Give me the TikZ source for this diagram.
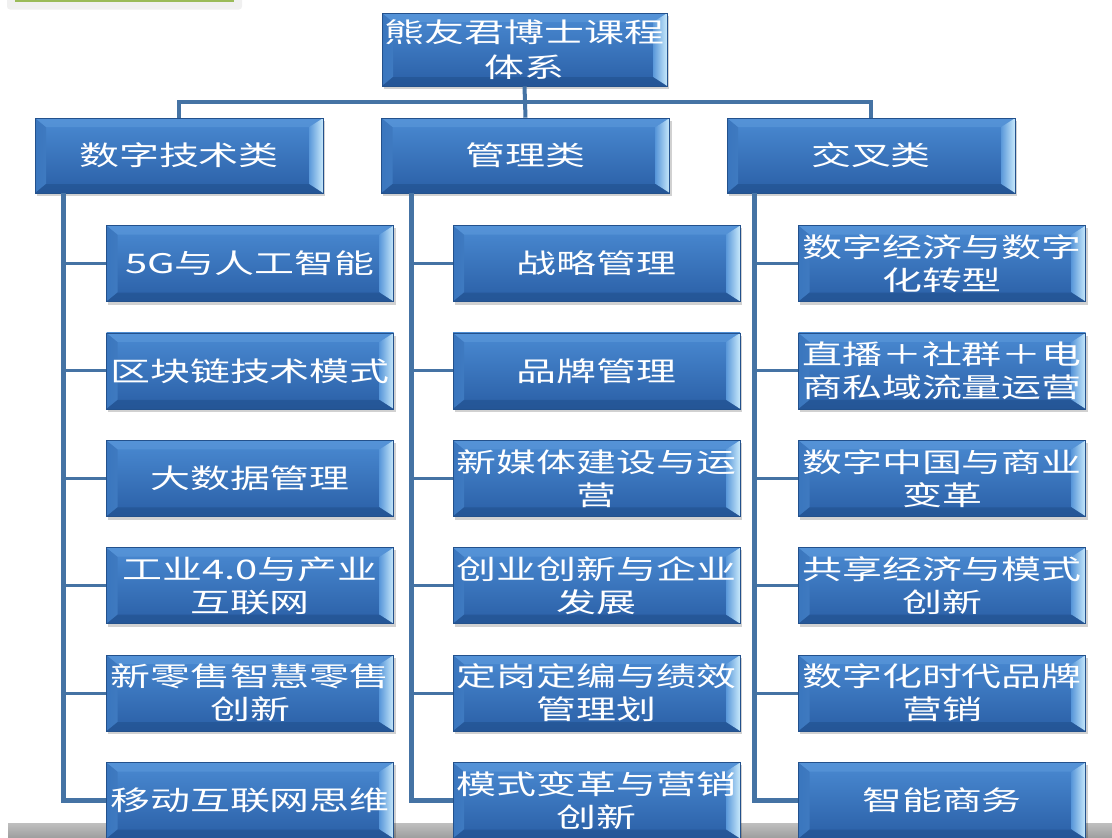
\documentclass[tikz,border=0pt]{standalone}
\usepackage{fontspec}
\newfontfamily\cjk[FakeStretch=1.48]{Noto Sans CJK SC}
\usetikzlibrary{calc,backgrounds}
\definecolor{boxtop}{HTML}{4A8AD2}
\definecolor{boxbot}{HTML}{2A5FA6}
\definecolor{boxedge}{HTML}{23518C}
\definecolor{bevLo}{HTML}{3A76BE}
\definecolor{bevLi}{HTML}{B3DBF7}
\definecolor{bevRi}{HTML}{5A98DA}
\definecolor{bevRo}{HTML}{C8E9FB}
\definecolor{bevT}{HTML}{5C99DB}
\definecolor{bevB}{HTML}{21508D}
\definecolor{connc}{HTML}{4573A4}
\definecolor{tabgreen}{HTML}{9BBB59}
\newcommand\mybevels{%
  \shade[left color=bevLo, right color=bevLi]
    (path picture bounding box.north west)
    -- ([xshift=11pt,yshift=-9pt]path picture bounding box.north west)
    -- ([xshift=11pt,yshift=9pt]path picture bounding box.south west)
    -- (path picture bounding box.south west) -- cycle;
  \shade[left color=bevRi, right color=bevRo]
    (path picture bounding box.north east)
    -- ([xshift=-14pt,yshift=-9pt]path picture bounding box.north east)
    -- ([xshift=-14pt,yshift=9pt]path picture bounding box.south east)
    -- (path picture bounding box.south east) -- cycle;
  \fill[bevT, opacity=0.6]
    (path picture bounding box.north west)
    -- (path picture bounding box.north east)
    -- ([xshift=-14pt,yshift=-9pt]path picture bounding box.north east)
    -- ([xshift=11pt,yshift=-9pt]path picture bounding box.north west) -- cycle;
  \fill[bevB, opacity=0.6]
    (path picture bounding box.south west)
    -- (path picture bounding box.south east)
    -- ([xshift=-14pt,yshift=9pt]path picture bounding box.south east)
    -- ([xshift=11pt,yshift=9pt]path picture bounding box.south west) -- cycle;
}
\tikzset{
  blk/.style={rectangle, draw=boxedge, line width=0.6pt, top color=boxtop,
    bottom color=boxbot, text=white, align=center, inner sep=0pt,
    font=\cjk\fontsize{27}{33}\selectfont, path picture={\mybevels}},
  rootbox/.style={blk, minimum width=285pt, minimum height=73pt, font=\cjk\fontsize{27}{35}\selectfont},
  catbox/.style={blk, minimum width=288pt, minimum height=75pt},
  itembox/.style={blk, minimum width=287pt, minimum height=76pt},
  conn/.style={draw=connc, line width=4pt},
  spine/.style={draw=connc, line width=5pt},
  shadowc/.style={fill=black, opacity=0.18},
}
\begin{document}
\begin{tikzpicture}[x=1pt,y=-1pt]
\useasboundingbox (0,0) rectangle (1112,838);
% top-left tab
\fill[gray!12, rounded corners=3pt] (7,-6) rectangle (242,9.5);
\fill[tabgreen] (15,0) rectangle (234,2.2);

% root and categories
\node[rootbox] (root) at (524.5,49.5) {熊友君博士课程\\体系};
\node[catbox] (c1) at (179,155.5) {数字技术类};
\node[catbox] (c2) at (525.5,155.5) {管理类};
\node[catbox] (c3) at (871,155.5) {交叉类};

% column 1
\node[itembox] (a1) at (250,263.5) {5G与人工智能};
\node[itembox] (a2) at (250,370.9) {区块链技术模式};
\node[itembox] (a3) at (250,478.3) {大数据管理};
\node[itembox] (a4) at (250,585.7) {工业4.0与产业\\互联网};
\node[itembox] (a5) at (250,693.1) {新零售智慧零售\\创新};
\node[itembox] (a6) at (250,800.5) {移动互联网思维};
% column 2
\node[itembox] (b1) at (596.5,263.5) {战略管理};
\node[itembox] (b2) at (596.5,370.9) {品牌管理};
\node[itembox] (b3) at (596.5,478.3) {新媒体建设与运\\营};
\node[itembox] (b4) at (596.5,585.7) {创业创新与企业\\发展};
\node[itembox] (b5) at (596.5,693.1) {定岗定编与绩效\\管理划};
\node[itembox] (b6) at (596.5,800.5) {模式变革与营销\\创新};
% column 3
\node[itembox] (d1) at (942,263.5) {数字经济与数字\\化转型};
\node[itembox] (d2) at (942,370.9) {直播＋社群＋电\\商私域流量运营};
\node[itembox] (d3) at (942,478.3) {数字中国与商业\\变革};
\node[itembox] (d4) at (942,585.7) {共享经济与模式\\创新};
\node[itembox] (d5) at (942,693.1) {数字化时代品牌\\营销};
\node[itembox] (d6) at (942,800.5) {智能商务};

\begin{scope}[on background layer]
  \shade[top color=gray!50, bottom color=gray!80] (8,823) rectangle (1112,840);
  \foreach \n in {root,c1,c2,c3,a1,a2,a3,a4,a5,a6,b1,b2,b3,b4,b5,b6,d1,d2,d3,d4,d5,d6}
    \fill[shadowc] ([xshift=2pt,yshift=-3pt]\n.north west) rectangle ([xshift=2pt,yshift=-3pt]\n.south east);
\end{scope}

% connectors: root to categories
\coordinate (bus) at (524.5,102);
\draw[conn] (root.south) -- (c2.north);
\draw[conn] (c1.north) -- (c1.north |- bus) -- (c3.north |- bus) -- (c3.north);

% spines
\coordinate (s1) at (63,193);
\coordinate (s2) at (411,193);
\coordinate (s3) at (754,193);
\draw[spine] (s1) |- (a6.west);
\draw[spine] (s2) |- (b6.west);
\draw[spine] (s3) |- (d6.west);
\foreach \n in {a1,a2,a3,a4,a5} \draw[conn, line width=3pt] (s1 |- \n.west) -- (\n.west);
\foreach \n in {b1,b2,b3,b4,b5} \draw[conn, line width=3pt] (s2 |- \n.west) -- (\n.west);
\foreach \n in {d1,d2,d3,d4,d5} \draw[conn, line width=3pt] (s3 |- \n.west) -- (\n.west);
\end{tikzpicture}
\end{document}
